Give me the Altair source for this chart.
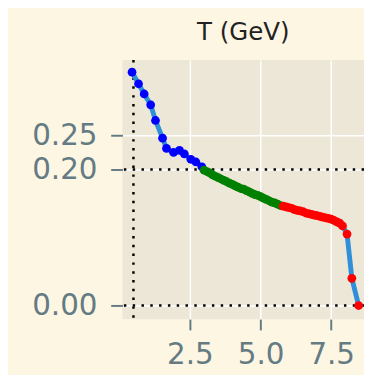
import altair as alt
import pandas as pd

# ---- data ----
blue_x = [0.45, 0.68, 0.88, 1.11, 1.28, 1.53, 1.67, 1.92, 2.13, 2.30, 2.53, 2.71, 2.92]
blue_y = [0.343, 0.326, 0.311, 0.295, 0.272, 0.246, 0.231, 0.225, 0.228, 0.223, 0.215, 0.211, 0.204]

green_x = [3.00, 3.10, 3.20, 3.30, 3.40, 3.50, 3.60, 3.70, 3.80, 3.90, 4.00, 4.10, 4.20, 4.30,
           4.40, 4.50, 4.60, 4.70, 4.80, 4.90, 5.00, 5.10, 5.20, 5.30, 5.40, 5.50, 5.60, 5.70]
green_y = [0.199, 0.197, 0.195, 0.192, 0.190, 0.188, 0.186, 0.184, 0.182, 0.180, 0.178, 0.176, 0.174, 0.172,
           0.171, 0.169, 0.167, 0.165, 0.163, 0.162, 0.160, 0.158, 0.156, 0.154, 0.152, 0.151, 0.149, 0.147]

red_x = [5.80, 5.90, 6.00, 6.10, 6.20, 6.30, 6.40, 6.50, 6.60, 6.70, 6.80, 6.90, 7.00, 7.10,
         7.20, 7.30, 7.40, 7.50, 7.60, 7.70, 7.80, 7.90, 8.06, 8.23, 8.47]
red_y = [0.146, 0.145, 0.144, 0.143, 0.141, 0.140, 0.139, 0.138, 0.136, 0.135, 0.134, 0.133, 0.132, 0.131,
         0.130, 0.129, 0.128, 0.127, 0.125, 0.123, 0.121, 0.117, 0.105, 0.040, 0.000]

ref_y = [0.0, 0.2]
ref_x = [0.5]

x_ticks = [2.5, 5.0, 7.5]
y_ticks = [0.0, 0.2, 0.25]

rows = []
for xs, ys, c in [(blue_x, blue_y, "blue"), (green_x, green_y, "green"), (red_x, red_y, "red")]:
    for a, b in zip(xs, ys):
        rows.append({"x": a, "y": b, "c": c})
df = pd.DataFrame(rows)
df["order"] = range(len(df))

xscale = alt.Scale(domain=[0.11, 8.66], nice=False, zero=False)
yscale = alt.Scale(domain=[-0.02, 0.361], nice=False, zero=False)

FONT = "DejaVu Sans"
LABEL = "#657b83"

xaxis = alt.Axis(values=x_ticks, format=".1f", title=None, labelFontSize=30, labelFont=FONT,
                 labelColor=LABEL, tickColor=LABEL, tickSize=11, tickWidth=2, labelPadding=10,
                 domain=False, grid=True, gridColor="white", gridWidth=1.5, labelFlush=False)
yaxis = alt.Axis(values=y_ticks, format=".2f", title=None, labelFontSize=30, labelFont=FONT,
                 labelColor=LABEL, tickColor=LABEL, tickSize=12, tickWidth=2, labelPadding=14,
                 domain=False, grid=True, gridColor="white", gridWidth=1.5, labelFlush=False)

base = alt.Chart(df)

line = base.mark_line(color="#2f8fd8", strokeWidth=5).encode(
    x=alt.X("x:Q", scale=xscale, axis=xaxis),
    y=alt.Y("y:Q", scale=yscale, axis=yaxis),
    order="order:Q",
)

pts = base.mark_circle(size=80, opacity=1).encode(
    x=alt.X("x:Q", scale=xscale),
    y=alt.Y("y:Q", scale=yscale),
    color=alt.Color("c:N", scale=alt.Scale(domain=["blue", "green", "red"],
                                           range=["#0000ff", "#008000", "#ff0000"]), legend=None),
)

hrule = alt.Chart(pd.DataFrame({"y": ref_y})).mark_rule(
    color="black", strokeWidth=2.5, strokeDash=[2.5, 6.5]).encode(y=alt.Y("y:Q", scale=yscale))
vrule = alt.Chart(pd.DataFrame({"x": ref_x})).mark_rule(
    color="black", strokeWidth=2.5, strokeDash=[2.5, 6.5]).encode(x=alt.X("x:Q", scale=xscale))

chart = alt.layer(hrule, vrule, line, pts).properties(
    width=247, height=265,
    title=alt.TitleParams("T (GeV)", fontSize=25, font=FONT, fontWeight="normal", color="#222222",
                          anchor="middle", baseline="alphabetic", offset=-6),
    autosize=alt.AutoSizeParams(type="none"),
    padding={"left": 117, "top": 49, "right": 0, "bottom": 53},
    background="#fdf6e3",
).configure_view(fill="#ece7d6", stroke=None)

chart.save("out.html", embed_options={"renderer": "svg", "actions": False})
